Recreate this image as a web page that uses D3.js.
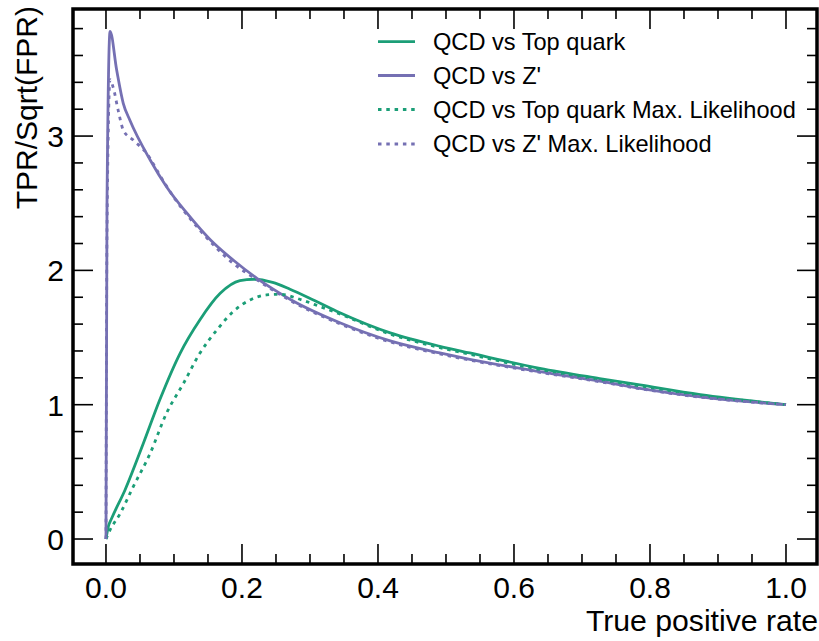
<!DOCTYPE html>
<html>
<head>
<meta charset="utf-8">
<script src="https://cdn.jsdelivr.net/npm/d3@7"></script>
<style>
  body { margin: 0; background: #fff; }
  svg { display: block; font-family: "Liberation Sans", Arial, sans-serif; }
</style>
</head>
<body>
<svg id="chart"></svg>
<script>
var dimensions = {
  width: 819,
  height: 641,
  margin: { top: 9, bottom: 77, right: 2, left: 73 }
}

// curve values (true positive rate, TPR/sqrt(FPR))
var topTpr = [0, 0.0034, 0.0084, 0.028, 0.055, 0.079, 0.109, 0.138, 0.168, 0.197, 0.217, 0.245, 0.2706, 0.305, 0.344, 0.418, 0.491, 0.535, 0.638, 0.726, 0.785, 0.874, 1.0]
var topVal = [0, 0.092, 0.154, 0.365, 0.713, 1.035, 1.383, 1.631, 1.829, 1.923, 1.934, 1.91, 1.86, 1.78, 1.685, 1.535, 1.435, 1.385, 1.271, 1.195, 1.147, 1.075, 1.0]

var topMlTpr = [0, 0.006, 0.021, 0.040, 0.065, 0.089, 0.114, 0.138, 0.163, 0.187, 0.212, 0.236, 0.256, 0.285, 0.315, 0.344, 0.418, 0.491, 0.535, 0.638, 0.726, 0.785, 0.874, 1.0]
var topMlVal = [0, 0.067, 0.191, 0.389, 0.638, 0.936, 1.159, 1.383, 1.556, 1.693, 1.780, 1.817, 1.822, 1.785, 1.73, 1.675, 1.525, 1.425, 1.375, 1.262, 1.187, 1.14, 1.07, 1.0]

var zpTpr = [0, 0.0015, 0.006, 0.0157, 0.0254, 0.035, 0.065, 0.089, 0.12, 0.153, 0.187, 0.222, 0.256, 0.2706, 0.344, 0.418, 0.491, 0.535, 0.638, 0.726, 0.785, 0.874, 1.0]
var zpVal = [0, 2.5, 3.78, 3.492, 3.244, 3.12, 2.822, 2.623, 2.42, 2.23, 2.077, 1.941, 1.829, 1.785, 1.61, 1.475, 1.385, 1.338, 1.246, 1.175, 1.122, 1.058, 1.0]

var zpMlTpr = [0, 0.0015, 0.006, 0.0107, 0.018, 0.0254, 0.04, 0.06, 0.079, 0.099, 0.138, 0.187, 0.222, 0.256, 0.2706, 0.344, 0.418, 0.491, 0.535, 0.638, 0.726, 0.785, 0.874, 1.0]
var zpMlVal = [0, 2.3, 3.42, 3.36, 3.19, 3.045, 2.97, 2.87, 2.71, 2.55, 2.30, 2.053, 1.93, 1.82, 1.777, 1.602, 1.467, 1.378, 1.332, 1.241, 1.171, 1.119, 1.056, 1.0]

var seriesNames = ["QCD vs Top quark", "QCD vs Z'", "QCD vs Top quark Max. Likelihood", "QCD vs Z' Max. Likelihood"]
var xTicks = [0, 0.2, 0.4, 0.6, 0.8, 1.0]
var yTicks = [0, 1, 2, 3]

var green = "#1b9e77"
var purple = "#7570b3"

var series = [
  { name: seriesNames[0], tpr: topTpr, val: topVal, color: green, dotted: false },
  { name: seriesNames[1], tpr: zpTpr, val: zpVal, color: purple, dotted: false },
  { name: seriesNames[2], tpr: topMlTpr, val: topMlVal, color: green, dotted: true },
  { name: seriesNames[3], tpr: zpMlTpr, val: zpMlVal, color: purple, dotted: true }
]

var width = dimensions.width, height = dimensions.height, margin = dimensions.margin

var svg = d3.select("#chart")
  .attr("width", width)
  .attr("height", height)

var xScale = d3.scaleLinear()
  .domain([-0.0485, 1.0456])
  .range([margin.left, width - margin.right])

var yScale = d3.scaleLinear()
  .domain([-0.186, 3.946])
  .range([height - margin.bottom, margin.top])

var x0 = margin.left, x1 = width - margin.right
var y0 = height - margin.bottom, y1 = margin.top

var minorX = d3.range(0, 1.0001, 0.05)
var minorY = d3.range(0, 3.8001, 0.2)

// inward ticks on all four sides
var tickG = svg.append("g").attr("stroke", "#000").attr("stroke-width", 1.6)
minorX.forEach(function(v) {
  var major = xTicks.some(t => Math.abs(t - v) < 1e-6)
  var len = major ? 20 : 10
  var x = xScale(v)
  tickG.append("line").attr("x1", x).attr("x2", x).attr("y1", y0).attr("y2", y0 - len)
  tickG.append("line").attr("x1", x).attr("x2", x).attr("y1", y1).attr("y2", y1 + len)
})
minorY.forEach(function(v) {
  var major = yTicks.some(t => Math.abs(t - v) < 1e-6)
  var len = major ? 20 : 10
  var y = yScale(v)
  tickG.append("line").attr("x1", x0).attr("x2", x0 + len).attr("y1", y).attr("y2", y)
  tickG.append("line").attr("x1", x1).attr("x2", x1 - len).attr("y1", y).attr("y2", y)
})

svg.append("g")
  .selectAll("text")
  .data(xTicks)
  .enter()
  .append("text")
  .attr("x", d => xScale(d))
  .attr("y", 598)
  .attr("text-anchor", "middle")
  .style("font-size", "30px")
  .text(d => d3.format(".1f")(d))

svg.append("g")
  .selectAll("text")
  .data(yTicks)
  .enter()
  .append("text")
  .attr("x", 64)
  .attr("y", d => yScale(d) + 11)
  .attr("text-anchor", "end")
  .style("font-size", "30px")
  .text(d => d)

svg.append("text")
  .attr("x", 818)
  .attr("y", 631)
  .attr("text-anchor", "end")
  .style("font-size", "30.2px")
  .text("True positive rate")

svg.append("text")
  .attr("transform", "translate(37,6) rotate(-90)")
  .attr("text-anchor", "end")
  .style("font-size", "30px")
  .text("TPR/Sqrt(FPR)")

var line = d3.line()
  .x(d => xScale(d[0]))
  .y(d => yScale(d[1]))
  .curve(d3.curveMonotoneX)

svg.append("g")
  .selectAll("path")
  .data(series)
  .enter()
  .append("path")
  .attr("d", s => line(s.tpr.map((t, i) => [t, s.val[i]])))
  .attr("fill", "none")
  .attr("stroke", s => s.color)
  .attr("stroke-width", 2.8)
  .attr("stroke-dasharray", s => s.dotted ? "3.5,4.8" : null)

// frame
svg.append("rect")
  .attr("x", x0)
  .attr("y", y1)
  .attr("width", x1 - x0)
  .attr("height", y0 - y1)
  .attr("fill", "none")
  .attr("stroke", "#000")
  .attr("stroke-width", 3.5)

var legend = svg.append("g")
var rowY = [41.7, 75.5, 109.5, 144]
series.forEach(function(s, i) {
  legend.append("line")
    .attr("x1", 378).attr("x2", 415)
    .attr("y1", rowY[i]).attr("y2", rowY[i])
    .attr("stroke", s.color)
    .attr("stroke-width", 2.8)
    .attr("stroke-dasharray", s.dotted ? "3.5,4.8" : null)
  legend.append("text")
    .attr("x", 433)
    .attr("y", rowY[i] + 8)
    .style("font-size", "23.6px")
    .text(s.name)
})
</script>
</body>
</html>
